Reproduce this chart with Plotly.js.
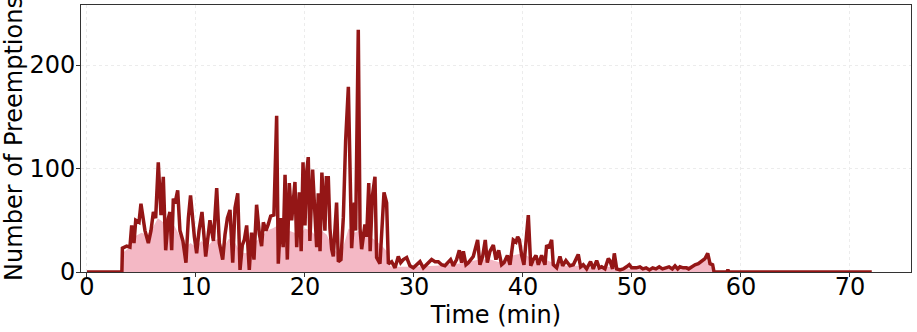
<!DOCTYPE html>
<html>
<head>
<meta charset="utf-8">
<script src="https://cdn.plot.ly/plotly-3.0.1.min.js"></script>
<style>
  html, body { margin: 0; padding: 0; background: #fff; }
  #chart { width: 917px; height: 332px; }
</style>
</head>
<body>
<div id="chart"></div>
<script>
// raw preemption counts (time in minutes)
const timeMin = [
  0, 3.2, 3.25, 3.64, 3.94, 4.1, 4.31, 4.47, 4.77, 4.95, 5.32, 5.63, 5.87, 6.09, 6.3, 6.54, 6.79, 7.0,
  7.22, 7.46, 7.61, 7.77, 7.92, 8.07, 8.32, 8.53, 8.8, 9.08, 9.3, 9.5, 9.85, 10.06, 10.28, 10.55,
  10.89, 11.13, 11.28, 11.6, 11.9, 12.14, 12.45, 12.66, 12.88, 13.12, 13.37, 13.58, 13.83, 14.04,
  14.25, 14.43, 14.65, 14.89, 15.1, 15.32, 15.56, 15.81, 16.02, 16.18, 16.42, 16.63, 16.85, 17.15,
  17.4, 17.55, 17.77, 18.0, 18.17, 18.38, 18.56, 18.78, 19.08, 19.24, 19.48, 19.65, 19.82, 20.0,
  20.15, 20.3, 20.45, 20.7, 20.92, 21.07, 21.22, 21.38, 21.55, 21.7, 21.83, 21.96, 22.14, 22.29,
  22.45, 22.6, 22.9, 23.06, 23.3, 23.52, 23.73, 23.98, 24.16, 24.28, 24.53, 24.65, 24.89, 25.05,
  25.2, 25.5, 25.66, 25.85, 25.98, 26.18, 26.42, 26.57, 26.88, 27.25, 27.49, 27.65, 27.8,
  27.95, 28.26, 28.56, 28.78, 29.02, 29.33, 29.63, 29.94, 30.25, 30.55, 30.86, 31.16, 31.62,
  31.93, 32.23, 32.54, 32.84, 33.36, 33.6, 33.91, 34.16, 34.37, 34.53, 34.77, 34.99, 35.44, 35.6,
  35.84, 36.05, 36.3, 36.54, 36.73, 36.97, 37.28, 37.52, 37.77, 38.04, 38.26, 38.57, 38.81,
  39.11, 39.36, 39.51, 39.67, 39.88, 40.09, 40.49, 40.71, 40.95, 41.19, 41.41, 41.71, 42.02,
  42.17, 42.36, 42.63, 42.78, 43.09, 43.39, 43.64, 43.94, 44.31, 44.62, 45.07, 45.29, 45.53,
  45.84, 46.2, 46.45, 46.76, 47.0, 47.22, 47.52, 47.83, 47.98, 48.22, 48.38, 48.6, 48.9, 49.2,
  49.5, 49.75, 49.97, 50.4, 50.73, 51.0, 51.3, 51.6, 51.9, 52.2, 52.5, 52.8, 53.1, 53.4, 53.7,
  53.95, 54.2, 54.4, 54.7, 55.0, 55.2, 55.47, 55.78, 56.09, 56.39, 56.7, 56.95, 57.16, 57.4,
  57.53, 58.7, 58.8, 58.9, 72
];
const preemptions = [
  0, 0, 23, 25, 24, 45, 28, 50, 48, 66, 40, 28, 40, 58, 52, 106, 55, 92,
  21, 52, 58, 21, 71, 66, 79, 40, 30, 9, 52, 74, 34, 18, 40, 58,
  15, 35, 50, 30, 81, 28, 12, 36, 52, 60, 9, 62, 76, 2,
  26, 31, 45, 2, 38, 12, 65, 37, 25, 48, 40, 46, 54, 55,
  151, 8, 52, 24, 94, 12, 86, 50, 87, 24, 77, 20, 106, 45,
  96, 111, 30, 99, 50, 24, 76, 20, 96, 63, 40, 91, 91, 42,
  22, 15, 67, 10, 12, 53, 127, 179, 70, 23, 67, 40, 234, 42,
  22, 46, 34, 86, 20, 73, 92, 14, 8, 77, 67, 8, 9,
  10, 4, 15, 9, 12, 14, 6, 4, 7, 10, 4, 7, 12,
  10, 10, 7, 6, 12, 6, 12, 21, 9, 20, 7, 9, 15, 21,
  31, 7, 15, 31, 9, 20, 26, 12, 21, 7, 9, 16, 7,
  31, 29, 34, 31, 16, 7, 55, 6, 12, 16, 7, 16, 7,
  26, 23, 31, 7, 4, 15, 6, 11, 6, 7, 17, 5, 7,
  3, 10, 3, 11, 4, 5, 3, 13, 11, 3, 18, 3, 2, 3,
  5, 7, 4, 4, 5, 3, 4, 2, 4, 3, 5, 3, 4, 5, 3,
  6, 3, 5, 4, 4, 3, 5, 7, 8, 10, 13, 18, 8, 7,
  0, 0, 2, 0, 0
];

// smoothed level shown as the pink area
const smoothTime = [
  0, 3.2, 3.25, 4, 4.5, 5, 5.5, 6, 6.5, 7, 7.5, 8, 8.5, 9, 9.5, 10, 10.5, 11, 11.5, 12, 12.5,
  13, 13.5, 14, 14.5, 15, 15.5, 16, 16.5, 17, 17.5, 18, 18.5, 19, 19.5, 20, 20.5, 21, 21.5, 22,
  22.5, 23, 23.5, 24, 24.5, 25, 25.5, 26, 26.5, 27, 27.5, 27.8, 28, 30, 32, 34, 35, 36, 37, 38,
  39, 40, 40.5, 41, 42, 43, 44, 45, 46, 48, 50, 54, 55, 56, 56.8, 57.3, 57.6, 72
];
const smoothLevel = [
  0, 0, 18, 25, 35, 38, 36, 42, 52, 48, 42, 45, 35, 24, 28, 24, 30, 24, 30, 32, 24,
  32, 30, 20, 18, 20, 30, 33, 40, 42, 45, 38, 40, 38, 36, 42, 40, 35, 40, 36,
  24, 18, 24, 42, 38, 40, 36, 34, 30, 26, 20, 6, 5, 5, 6, 8, 10, 12, 12, 9,
  16, 18, 15, 10, 12, 8, 6, 6, 4, 5, 3, 3, 5, 8, 12, 5, 0, 0
];

const fillTrace = {
  x: smoothTime,
  y: smoothLevel,
  type: 'scatter',
  mode: 'lines',
  line: { width: 0, color: 'rgba(0,0,0,0)' },
  fill: 'tozeroy',
  fillcolor: '#f4b8c5',
  hoverinfo: 'skip',
  showlegend: false
};

const lineTrace = {
  x: timeMin,
  y: preemptions,
  type: 'scatter',
  mode: 'lines',
  line: { color: '#941616', width: 3.5 },
  showlegend: false
};

const axisFont = { family: 'DejaVu Sans', size: 24, color: '#000' };

const layout = {
  width: 917,
  height: 332,
  margin: { l: 81, r: 6, t: 5, b: 60 },
  paper_bgcolor: '#fff',
  plot_bgcolor: '#fff',
  font: axisFont,
  xaxis: {
    range: [-0.55, 75.6],
    tickvals: [0, 10, 20, 30, 40, 50, 60, 70],
    tickfont: axisFont,
    ticklabelstandoff: -11,
    title: { text: 'Time (min)', font: axisFont, standoff: 4 },
    showline: true, mirror: true, linecolor: '#333', linewidth: 1,
    ticks: 'outside', ticklen: 4, tickcolor: '#333',
    showgrid: true, gridcolor: '#ececec', griddash: '3px,3px', gridwidth: 1,
    zeroline: false
  },
  yaxis: {
    range: [0, 258],
    tickvals: [0, 100, 200],
    tickfont: axisFont,
    ticklabelstandoff: -4,
    title: { text: 'Number of Preemptions', font: axisFont, standoff: 0 },
    showline: true, mirror: true, linecolor: '#333', linewidth: 1,
    ticks: 'outside', ticklen: 4, tickcolor: '#333',
    showgrid: true, gridcolor: '#ececec', griddash: '3px,3px', gridwidth: 1,
    zeroline: false
  }
};

Plotly.newPlot('chart', [fillTrace, lineTrace], layout, { displayModeBar: false, staticPlot: true });
</script>
</body>
</html>
